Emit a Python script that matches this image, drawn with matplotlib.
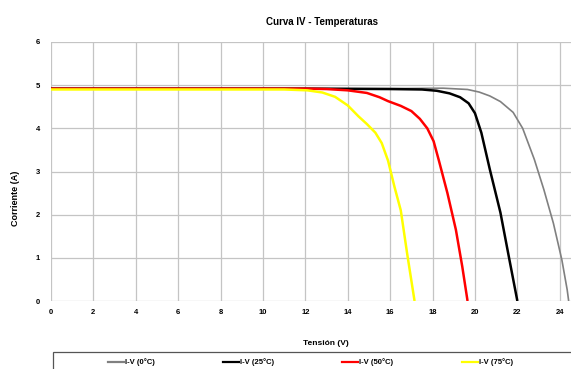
import matplotlib
matplotlib.use("Agg")
import matplotlib.pyplot as plt
from matplotlib.lines import Line2D
from matplotlib.patches import Rectangle

plt.rcParams['font.family'] = ['Liberation Sans', 'DejaVu Sans']

# Data
v_0c = [0, 4, 8, 12, 16, 18.5, 19.65, 20.2, 20.7, 21.2, 21.8, 22.25, 22.8, 23.25, 23.7, 24.1, 24.35, 24.42]
i_0c = [4.92, 4.92, 4.92, 4.92, 4.92, 4.93, 4.90, 4.84, 4.75, 4.62, 4.37, 4.00, 3.28, 2.58, 1.80, 0.95, 0.26, 0.0]

v_25c = [0, 4, 8, 12, 16, 17.5, 18.2, 18.8, 19.3, 19.7, 20.0, 20.3, 20.7, 21.2, 21.6, 22.0]
i_25c = [4.92, 4.92, 4.92, 4.92, 4.91, 4.90, 4.87, 4.81, 4.72, 4.58, 4.35, 3.90, 3.05, 2.05, 1.02, 0.0]

v_50c = [0, 4, 8, 12, 13, 14, 14.9, 15.5, 15.9, 16.5, 17.0, 17.4, 17.75, 18.05, 18.3, 18.7, 19.1, 19.4, 19.65]
i_50c = [4.92, 4.92, 4.92, 4.92, 4.91, 4.88, 4.82, 4.72, 4.63, 4.52, 4.40, 4.22, 4.00, 3.70, 3.25, 2.50, 1.65, 0.80, 0.0]

v_75c = [0, 4, 8, 11, 12.1, 12.8, 13.4, 14.0, 14.5, 14.9, 15.3, 15.6, 15.9, 16.2, 16.5, 16.8, 17.15]
i_75c = [4.90, 4.90, 4.90, 4.90, 4.88, 4.83, 4.73, 4.53, 4.28, 4.10, 3.90, 3.66, 3.25, 2.65, 2.10, 1.10, 0.0]

labels = ["I-V (0°C)", "I-V (25°C)", "I-V (50°C)", "I-V (75°C)"]
colors = ["#808080", "#000000", "#ff0000", "#ffff00"]
widths = [1.2, 1.8, 1.8, 1.8]
x_ticks = list(range(0, 25, 2))
y_ticks = [0, 1, 2, 3, 4, 5, 6]

W, H = 571, 369
fig = plt.figure(figsize=(W / 100, H / 100), dpi=100)
fig.patch.set_facecolor("white")
ax = fig.add_axes([51 / W, 1 - 301 / H, (W - 51) / W, (301 - 42) / H])

series = [(v_0c, i_0c), (v_25c, i_25c), (v_50c, i_50c), (v_75c, i_75c)]
for (v, i), c, lw in zip(series, colors, widths):
    ax.plot(v, i, color=c, lw=lw, solid_capstyle="butt", solid_joinstyle="round")

ax.set_xlim(0, 24.53)
ax.set_ylim(0, 6)
ax.set_xticks(x_ticks)
ax.set_yticks(y_ticks)
ax.grid(True, color="#c4c4c4", lw=0.9)
ax.set_axisbelow(True)
for s in ax.spines.values():
    s.set_visible(False)
ax.tick_params(length=0, labelsize=5.5)
ax.tick_params(axis="y", pad=8)
ax.tick_params(axis="x", pad=6)
for t in ax.get_xticklabels() + ax.get_yticklabels():
    t.set_fontweight("bold")

ax.set_xlabel("Tensión (V)", fontsize=6, fontweight="bold")
ax.xaxis.set_label_coords((326 - 51) / (W - 51), (301 - 340) / 259)
ax.set_ylabel("Corriente (A)", fontsize=6.5, fontweight="bold")
ax.yaxis.set_label_coords((20 - 51) / (W - 51), (301 - 198) / 259)

fig.text(322 / W, 1 - 22 / H, "Curva IV - Temperaturas", fontsize=7,
         fontweight="bold", ha="center", va="center")

# Legend box (extends beyond figure edge as in reference)
fig.add_artist(Rectangle((53 / W, -0.05), 1.0, (0.05 + 1 - 352 / H),
                         transform=fig.transFigure, facecolor="white",
                         edgecolor="#555555", lw=0.9))
leg_x = [108, 223, 342, 462]
ly = 1 - 362 / H
for x0, lab, c in zip(leg_x, labels, colors):
    fig.add_artist(Line2D([x0 / W, (x0 + 16) / W], [ly, ly],
                          transform=fig.transFigure, color=c, lw=1.6))
    fig.text((x0 + 17) / W, ly, lab, fontsize=5.5, fontweight="bold",
             ha="left", va="center")

fig.savefig("out.png", dpi=100, facecolor="white")
